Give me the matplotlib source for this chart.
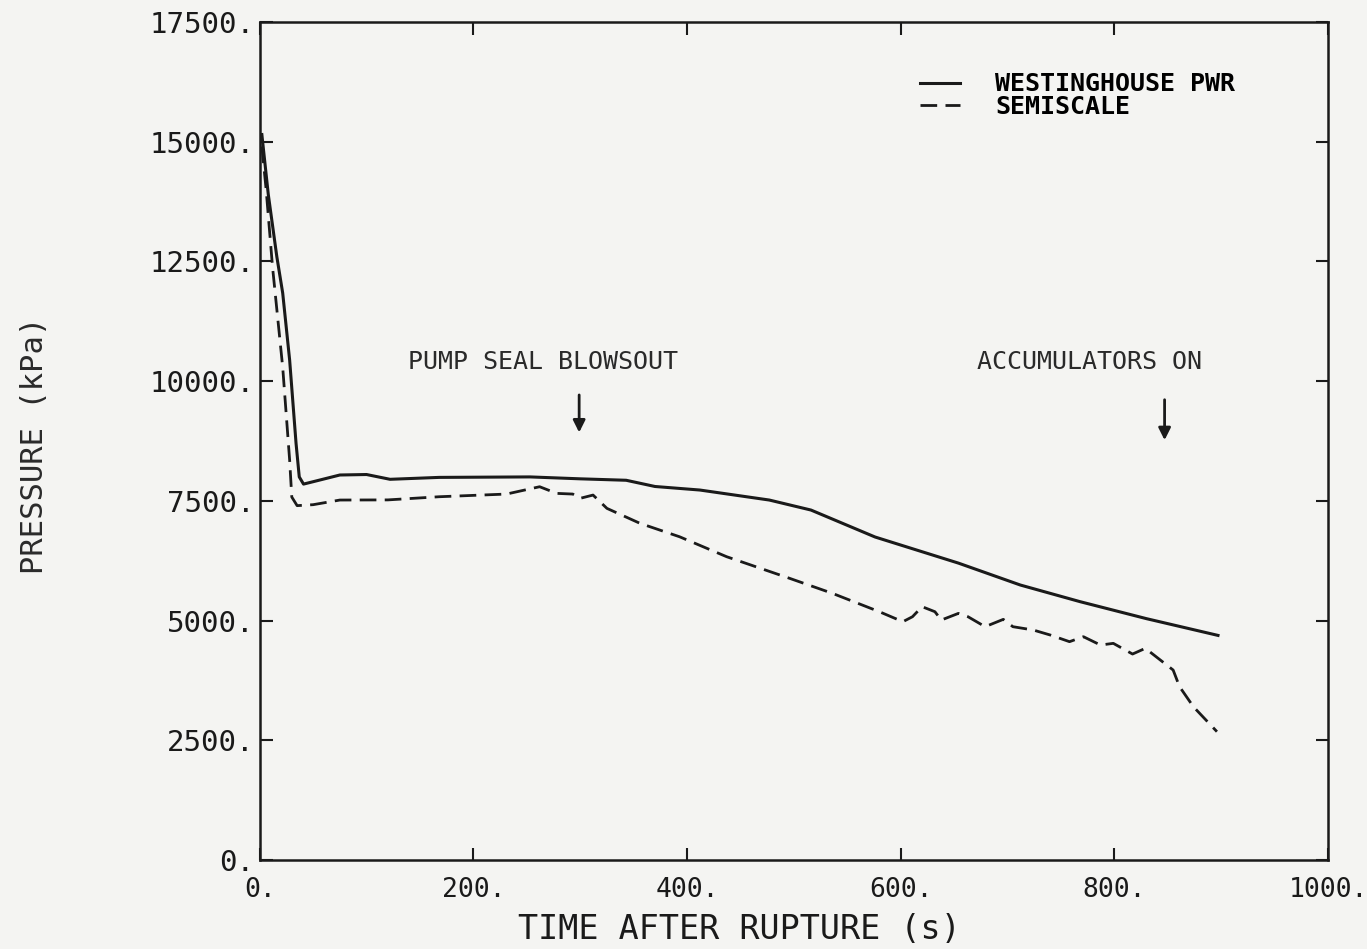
import matplotlib
matplotlib.use("Agg")
from matplotlib import pyplot as plt
from matplotlib.ticker import FuncFormatter, MultipleLocator

# Westinghouse PWR (solid)
t_pwr = [2, 8, 16, 21.5, 28, 34, 37, 41, 50, 75, 100, 122, 168, 253, 300, 343,
         370, 412, 477, 516, 576, 654, 712, 768, 830, 897]
p_pwr = [15150, 13900, 12600, 11840, 10440, 8700, 8000, 7850, 7900, 8040, 8050,
         7950, 7990, 8000, 7960, 7930, 7800, 7726, 7517, 7308, 6745, 6200, 5742,
         5394, 5040, 4690]

# Semiscale (dashed)
t_semi = [2, 6, 12, 21.5, 28, 30, 35, 50, 75, 120, 168, 231, 262, 278, 293, 300,
          312, 325, 356, 393, 437, 496, 536, 580, 602, 611, 620, 632, 638, 654,
          663, 679, 696, 705, 724, 740, 758, 771, 787, 799, 817, 829, 843, 855,
          861, 874, 896]
p_semi = [14900, 14000, 12380, 10290, 8350, 7580, 7400, 7420, 7517, 7520, 7586,
          7642, 7795, 7656, 7642, 7553, 7621, 7343, 7030, 6750, 6334, 5882, 5569,
          5185, 4976, 5080, 5290, 5185, 5011, 5150, 5080, 4872, 5025, 4872, 4803,
          4698, 4559, 4663, 4489, 4524, 4301, 4420, 4176, 3967, 3619, 3200, 2680]

# annotations: (text, text t, text p, arrow t, arrow tail p, arrow tip p)
notes = [("PUMP SEAL BLOWSOUT", 265, 10400, 299, 9770, 8870),
         ("ACCUMULATORS ON", 777, 10400, 847, 9670, 8710)]

mono = "DejaVu Sans Mono"
bg = "#f4f4f2"

fig = plt.figure(figsize=(13.67, 9.49), dpi=100, facecolor=bg)
ax = fig.add_axes([0.190, 0.0938, 0.7815, 0.883], facecolor=bg)

ax.plot(t_pwr, p_pwr, color="#1a1a1a", lw=2.2, label="WESTINGHOUSE PWR")
ax.plot(t_semi, p_semi, color="#1a1a1a", lw=2.0, dashes=(6, 3), label="SEMISCALE")

for txt, tx, py, at, p0, p1 in notes:
    ax.text(tx, py, txt, family=mono, fontsize=18, color="#2a2a2a",
            ha="center", va="center")
    ax.annotate("", xy=(at, p1), xytext=(at, p0),
                arrowprops=dict(arrowstyle="-|>", color="#1a1a1a", lw=2,
                                mutation_scale=18))

leg = ax.legend(loc="upper left", bbox_to_anchor=(0.618, 0.94), frameon=False,
                borderpad=0, borderaxespad=0, labelspacing=-0.05,
                handlelength=1.6, handletextpad=1.4,
                prop=dict(family=mono, weight="bold", size=18))

ax.set_xlim(0, 1000)
ax.set_ylim(0, 17500)
ax.xaxis.set_major_locator(MultipleLocator(200))
ax.yaxis.set_major_locator(MultipleLocator(2500))
ax.xaxis.set_major_formatter(FuncFormatter(lambda v, p: f"{v:.0f}."))
ax.yaxis.set_major_formatter(FuncFormatter(lambda v, p: f"{v:.0f}."))
ax.tick_params(direction="in", length=9, width=1.5, top=True, right=True,
               colors="#1a1a1a")
ax.tick_params(axis="x", pad=12, labelsize=19)
ax.tick_params(axis="y", pad=4, labelsize=21)
for lab in ax.get_xticklabels() + ax.get_yticklabels():
    lab.set_family(mono)
for s in ax.spines.values():
    s.set_linewidth(1.8)
    s.set_color("#1a1a1a")

ax.set_xlabel("TIME AFTER RUPTURE (s)", family=mono, fontsize=24, color="#1a1a1a")
ax.xaxis.set_label_coords(0.449, -0.063)
ax.set_ylabel("PRESSURE (kPa)", family=mono, fontsize=22, color="#2a2a2a")
ax.yaxis.set_label_coords(-0.197, 0.495)

plt.savefig("out.png", dpi=100, facecolor=bg)
